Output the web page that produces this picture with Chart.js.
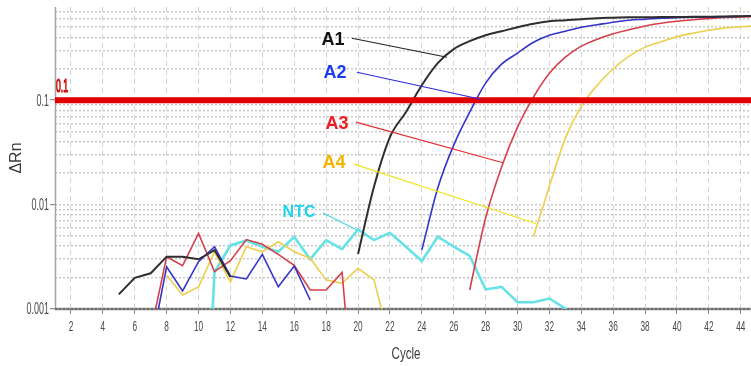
<!DOCTYPE html>
<html>
<head>
<meta charset="utf-8">
<script src="https://cdn.jsdelivr.net/npm/chart.js@4.4.1/dist/chart.umd.min.js"></script>
<style>
  html, body { margin: 0; padding: 0; background: #ffffff; overflow: hidden; }
  #wrap { width: 751px; height: 366px; position: relative; }
</style>
</head>
<body>
<div id="wrap"><canvas id="chart" width="751" height="366"></canvas></div>
<script>
// Amplification plot: ΔRn (log scale) against PCR cycle number.
const cycles = [1, 2, 3, 4, 5, 6, 7, 8, 9, 10, 11, 12, 13, 14, 15, 16, 17, 18, 19, 20,
  21, 22, 23, 24, 25, 26, 27, 28, 29, 30, 31, 32, 33, 34, 35, 36, 37, 38, 39, 40,
  41, 42, 43, 44, 45];

const sampleNames = ['A1', 'A2', 'A3', 'A4', 'NTC'];

const deltaRnA1 = [null, null, null, null, 0.00138, 0.00199, 0.00220, 0.00317, 0.00317, 0.00299,
  0.00367, 0.00202, null, null, null, null, null, null, null, 0.00336,
  0.0148, 0.0443, 0.0767, 0.139, 0.226, 0.308, 0.367, 0.419, 0.457, 0.500,
  0.540, 0.570, 0.583, 0.596, 0.610, 0.616, 0.622, 0.622, 0.625, 0.625,
  0.629, 0.629, 0.632, 0.636, 0.640];

const deltaRnA2 = [null, null, null, null, null, null, 0.00042, 0.00254, 0.00149, 0.00284,
  0.00395, 0.00207, 0.00194, 0.00334, 0.00163, 0.00258, 0.00122, null, null, null,
  null, null, null, 0.00367, 0.0144, 0.0371, 0.0767, 0.1455, 0.221, 0.282,
  0.359, 0.419, 0.457, 0.4995, 0.528, 0.558, 0.583, 0.596, 0.610, 0.616,
  0.622, 0.622, 0.629, 0.636, 0.640];

const deltaRnA3 = [null, null, null, null, null, null, 0.0006, 0.00317, 0.0026, 0.0053,
  0.00228, 0.0029, 0.00462, 0.00416, 0.00334, 0.00262, 0.00152, 0.00152, 0.00224, 0.00004,
  null, null, null, null, null, null, 0.00152, 0.00743, 0.0229, 0.0552,
  0.107, 0.181, 0.258, 0.329, 0.384, 0.433, 0.473, 0.514, 0.546, 0.570,
  0.589, 0.605, 0.620, 0.625, 0.630];

const deltaRnA4 = [null, null, null, null, null, null, null, 0.00211, 0.00136, 0.00163,
  0.00353, 0.00182, 0.00395, 0.00353, 0.00441, 0.00353, 0.00306, 0.00190, 0.00176, 0.00245,
  0.00190, 0.00049, null, null, null, null, null, null, null, null,
  0.00492, 0.0150, 0.0433, 0.0876, 0.139, 0.200, 0.264, 0.322, 0.363, 0.406,
  0.438, 0.468, 0.492, 0.505, 0.515];

const deltaRnNTC = [null, null, null, null, null, null, null, null, null, 0.000002,
  0.00226, 0.00406, 0.00453, 0.00395, 0.00353, 0.00489, 0.00301, 0.00457, 0.00375, 0.00577,
  0.00457, 0.00537, 0.00395, 0.00288, 0.00492, 0.00395, 0.00322, 0.00154, 0.00163, 0.00116,
  0.00116, 0.00126, 0.00101, 0.0006, null, null, null, null, null, null,
  null, null, null, null, null];

const thresholdValue = 0.1;

const xTickValues = [2, 4, 6, 8, 10, 12, 14, 16, 18, 20, 22, 24, 26, 28, 30, 32, 34, 36, 38, 40, 42, 44];
const yGridValues = [0.001, 0.002, 0.003, 0.004, 0.005, 0.006, 0.007, 0.008, 0.009,
  0.01, 0.02, 0.03, 0.04, 0.05, 0.06, 0.07, 0.08, 0.09,
  0.1, 0.2, 0.3, 0.4, 0.5, 0.6, 0.7];
const yLabelValues = [0.001, 0.01, 0.1];
const yLabelTexts = ['0.001', '0.01', '0.1'];

const seriesValues = [deltaRnA1, deltaRnA2, deltaRnA3, deltaRnA4, deltaRnNTC];
const lineColors = ['#2e2e2e', '#3434c8', '#d4404a', '#eccf4c', '#66e2e6'];
const lineWidths = [2, 1.6, 1.6, 1.6, 2.6];
const labelColors = ['#111111', '#1d3cf2', '#f01c24', '#f4b400', '#1fd2ee'];
const leaderColors = ['#222222', '#2a2ae0', '#e62a30', '#f0e21c', '#3ad8e4'];

// callout placement in data units: [cycle, ΔRn]
const calloutText = [[18.43, 0.375], [18.55, 0.181], [18.68, 0.0589], [18.49, 0.0249], [16.30, 0.0083]];
const calloutFrom = [[19.62, 0.392], [19.93, 0.185], [19.87, 0.0616], [19.75, 0.0244], [17.80, 0.0083]];
const calloutTo = [[25.58, 0.258], [27.70, 0.102], [29.09, 0.0252], [31.16, 0.00658], [19.93, 0.0057]];

// Split each trace into contiguous runs; the run that reaches the plateau is smoothed.
function buildDatasets() {
  const sets = [];
  seriesValues.forEach((vals, s) => {
    let run = [];
    const flush = () => {
      if (!run.length) return;
      const top = Math.max(...run.map(p => p.y));
      sets.push({
        label: sampleNames[s],
        data: run,
        borderColor: lineColors[s],
        borderWidth: lineWidths[s],
        pointRadius: 0,
        fill: false,
        clip: 0,
        order: 2,
        cubicInterpolationMode: top > thresholdValue ? 'monotone' : 'default',
        tension: 0
      });
      run = [];
    };
    vals.forEach((v, i) => {
      if (v === null) { flush(); } else { run.push({ x: cycles[i], y: v }); }
    });
    flush();
  });
  sets.push({
    label: 'threshold',
    data: [{ x: cycles[0], y: thresholdValue }, { x: cycles[cycles.length - 1], y: thresholdValue }],
    borderColor: '#e10000',
    borderWidth: 6,
    pointRadius: 0,
    clip: 0,
    order: 0
  });
  return sets;
}

// Axis lines, drawn separately so that the grid can keep its own dash pattern.
const axisLines = {
  id: 'axisLines',
  beforeDatasetsDraw(chart) {
    const { ctx, chartArea: a } = chart;
    ctx.save();
    ctx.strokeStyle = '#a4a4a4';
    ctx.lineWidth = 1.5;
    ctx.beginPath();
    ctx.moveTo(a.left + 0.5, a.top);
    ctx.lineTo(a.left + 0.5, a.bottom);
    ctx.stroke();
    ctx.strokeStyle = '#8c8c8c';
    ctx.lineWidth = 2.5;
    ctx.beginPath();
    ctx.moveTo(a.left, a.bottom);
    ctx.lineTo(a.right, a.bottom);
    ctx.stroke();
    ctx.strokeStyle = '#606060';
    ctx.lineWidth = 1.5;
    ctx.setLineDash([2, 2]);
    ctx.beginPath();
    ctx.moveTo(a.left, a.bottom);
    ctx.lineTo(a.right, a.bottom);
    ctx.stroke();
    ctx.restore();
  }
};

const axisText = {
  id: 'axisText',
  afterDraw(chart) {
    const { ctx, scales: { x, y }, chartArea } = chart;
    ctx.save();
    ctx.fillStyle = '#4a4a4a';
    ctx.font = '16px "Liberation Sans", Arial, sans-serif';
    ctx.textBaseline = 'middle';
    // y decade labels
    yLabelValues.forEach((v, i) => {
      const py = y.getPixelForValue(v);
      ctx.save();
      ctx.translate(chartArea.left - 6, py + 1);
      ctx.scale(0.56, 1);
      ctx.textAlign = 'right';
      ctx.fillText(yLabelTexts[i], 0, 0);
      ctx.restore();
    });
    // x tick labels
    ctx.font = '15px "Liberation Sans", Arial, sans-serif';
    xTickValues.forEach(v => {
      const px = x.getPixelForValue(v);
      ctx.save();
      ctx.translate(px, chartArea.bottom + 18);
      ctx.scale(0.55, 1);
      ctx.textAlign = 'center';
      ctx.fillText(String(v), 0, 0);
      ctx.restore();
    });
    // axis titles
    ctx.fillStyle = '#3a3a3a';
    ctx.font = '17px "Liberation Sans", Arial, sans-serif';
    ctx.save();
    ctx.translate((chartArea.left + chartArea.right) / 2 + 3, chartArea.bottom + 45);
    ctx.scale(0.68, 1);
    ctx.textAlign = 'center';
    ctx.fillText('Cycle', 0, 0);
    ctx.restore();
    ctx.save();
    ctx.font = '16px "Liberation Sans", Arial, sans-serif';
    ctx.translate(17, (chartArea.top + chartArea.bottom) / 2);
    ctx.rotate(-Math.PI / 2);
    ctx.textAlign = 'center';
    ctx.fillText('ΔRn', 0, 0);
    ctx.restore();
    // threshold value tag
    ctx.save();
    ctx.font = '18px "Liberation Sans", Arial, sans-serif';
    ctx.translate(chartArea.left + 1, y.getPixelForValue(thresholdValue) - 4);
    ctx.scale(0.48, 1);
    ctx.textAlign = 'left';
    ctx.textBaseline = 'bottom';
    ctx.fillStyle = '#f07070';
    ctx.strokeStyle = '#c80000';
    ctx.lineWidth = 1.2;
    ctx.fillText('0.1', 0, 0);
    ctx.strokeText('0.1', 0, 0);
    ctx.restore();
    ctx.restore();
  }
};

const callouts = {
  id: 'callouts',
  afterDatasetsDraw(chart) {
    const { ctx, scales: { x, y } } = chart;
    ctx.save();
    sampleNames.forEach((name, i) => {
      ctx.beginPath();
      ctx.moveTo(x.getPixelForValue(calloutFrom[i][0]), y.getPixelForValue(calloutFrom[i][1]));
      ctx.lineTo(x.getPixelForValue(calloutTo[i][0]), y.getPixelForValue(calloutTo[i][1]));
      ctx.strokeStyle = leaderColors[i];
      ctx.lineWidth = 1.1;
      ctx.stroke();
      ctx.fillStyle = labelColors[i];
      ctx.font = (name === 'NTC' ? 'bold 16px' : 'bold 18px') + ' "Liberation Sans", Arial, sans-serif';
      ctx.textAlign = 'center';
      ctx.textBaseline = 'middle';
      ctx.fillText(name, x.getPixelForValue(calloutText[i][0]), y.getPixelForValue(calloutText[i][1]));
    });
    ctx.restore();
  }
};

new Chart(document.getElementById('chart'), {
  type: 'line',
  data: { datasets: buildDatasets() },
  options: {
    responsive: false,
    animation: false,
    devicePixelRatio: 1,
    layout: { padding: { top: 7, right: 0, bottom: 0, left: 0 } },
    plugins: { legend: { display: false }, tooltip: { enabled: false } },
    scales: {
      x: {
        type: 'linear',
        min: 1,
        max: 44.64,
        afterBuildTicks: s => { s.ticks = xTickValues.map(v => ({ value: v })); },
        afterFit: s => { s.height = 57; },
        ticks: { display: false },
        grid: {
          color: '#d4d4d4',
          lineWidth: 1,
          tickColor: '#808080',
          tickLength: 5,
          tickWidth: 1
        },
        // in Chart.js v4 the grid dash pattern is taken from the border options
        border: { display: false, dash: [5, 4] }
      },
      y: {
        type: 'logarithmic',
        min: 0.001,
        max: 0.78,
        afterBuildTicks: s => { s.ticks = yGridValues.map(v => ({ value: v })); },
        afterFit: s => { s.width = 55; },
        ticks: { display: false },
        grid: {
          color: '#c6c6c6',
          lineWidth: 1.4,
          tickColor: ctx => (yLabelValues.includes(ctx.tick && ctx.tick.value) ? '#707070' : 'rgba(0,0,0,0)'),
          tickLength: 5,
          tickWidth: 1
        },
        border: { display: false, dash: [2, 2] }
      }
    }
  },
  plugins: [axisLines, callouts, axisText]
});
</script>
</body>
</html>
